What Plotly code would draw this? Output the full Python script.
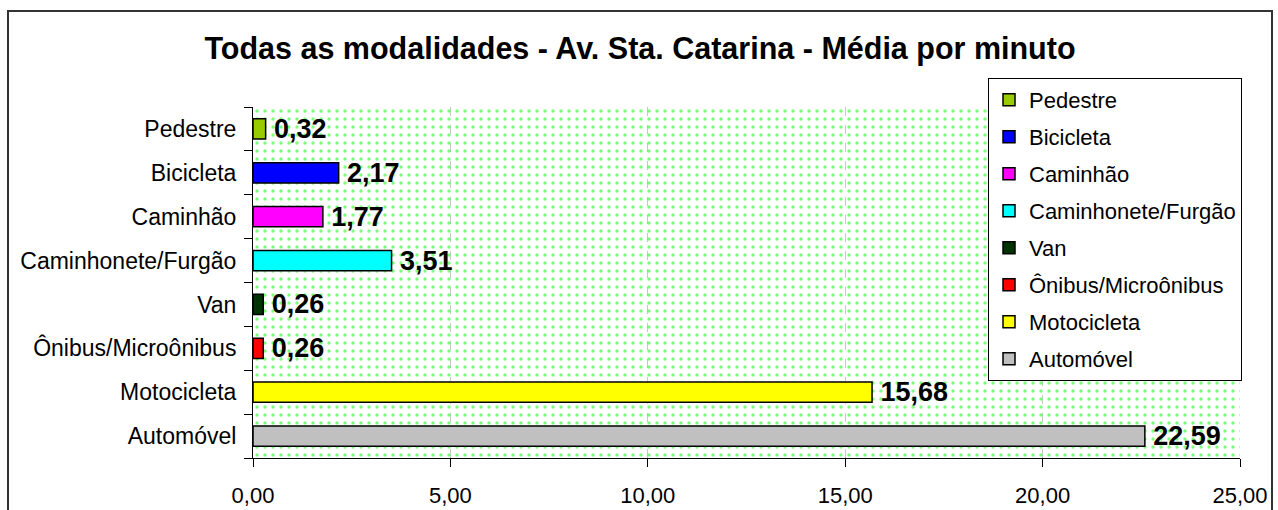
import plotly.graph_objects as go

categories = ["Pedestre", "Bicicleta", "Caminhão", "Caminhonete/Furgão", "Van",
              "Ônibus/Microônibus", "Motocicleta", "Automóvel"]
values = [0.32, 2.17, 1.77, 3.51, 0.26, 0.26, 15.68, 22.59]
colors = ["#99cc00", "#0000ff", "#ff00ff", "#00ffff", "#003300",
          "#ff0000", "#ffff00", "#c0c0c0"]
x_ticks = [0, 5, 10, 15, 20, 25]
title = "Todas as modalidades - Av. Sta. Catarina - Média por minuto"

FONT = "Liberation Sans, Arial, sans-serif"

fig = go.Figure()

# dotted plot-area background (decoration) on base axes
fig.add_trace(go.Bar(
    x=[0.5], y=[1], width=[1], xaxis="x", yaxis="y",
    marker=dict(color="rgba(0,0,0,0)", line=dict(width=0),
                pattern=dict(shape=".", fgcolor="#00ff00", bgcolor="rgba(0,0,0,0)",
                             size=8, solidity=0.14)),
    showlegend=False, hoverinfo="skip",
))

for cat, val, col in zip(categories, values, colors):
    fig.add_trace(go.Bar(
        x=[val], y=[cat], orientation="h", name=cat,
        xaxis="x2", yaxis="y2",
        marker=dict(color=col, line=dict(color="black", width=1.5)),
        width=0.46,
        text=[val], texttemplate="\u2009<b>%{x:.2f}</b>", textposition="outside",
        textfont=dict(size=27, color="black", family=FONT),
        constraintext="none",
        cliponaxis=False, legendgroup=cat,
    ))

W, H = 1278, 510
ml, mr, mt, mb = 253, 38, 107, 52
pw, ph = W - ml - mr, H - mt - mb

def px(x):
    return (x - ml) / pw

def py(y):
    return (H - mb - y) / ph

fig.update_layout(
    width=W, height=H,
    margin=dict(l=ml, r=mr, t=mt, b=mb, autoexpand=False),
    paper_bgcolor="white", plot_bgcolor="white",
    separators=",.",
    barmode="overlay",
    font=dict(family=FONT, size=23, color="black"),
    title=dict(text="<b>" + title + "</b>", x=640 / W, xanchor="center",
               y=1 - 48 / H, yanchor="middle",
               font=dict(size=30.5, family=FONT, color="black")),
    xaxis=dict(range=[0, 1], visible=False, fixedrange=True),
    yaxis=dict(range=[0, 1], visible=False, fixedrange=True),
    xaxis2=dict(overlaying="x", range=[0, 25], tickvals=x_ticks, tickformat=".2f",
                showline=True, linecolor="black", linewidth=1, automargin=False,
                ticks="outside", ticklen=8, tickcolor="black", ticklabelstandoff=10,
                showgrid=True, gridcolor="#c8c8c8", griddash="dash", gridwidth=1,
                zeroline=False, tickfont=dict(size=22), side="bottom", anchor="y2"),
    yaxis2=dict(overlaying="y", categoryorder="array",
                categoryarray=list(reversed(categories)),
                showline=True, linecolor="black", linewidth=1, automargin=False,
                ticks="outside", ticklen=8, tickcolor="black", tickson="boundaries",
                ticklabelstandoff=11,
                showgrid=False, tickfont=dict(size=23), anchor="x2",
                range=[-0.5, 7.5]),
    legend=dict(x=px(988), y=py(78), xanchor="left", yanchor="top",
                bgcolor="white", bordercolor="black", borderwidth=1,
                font=dict(size=22, family=FONT), tracegroupgap=5.4,
                traceorder="grouped", maxheight=440),
    shapes=[dict(type="rect", xref="paper", yref="paper",
                 x0=px(8), x1=px(1272), y0=py(520), y1=py(11),
                 line=dict(color="#333333", width=2), layer="above")],
)

fig.write_html("out.html", config={"displayModeBar": False},
               post_script="document.body.style.margin='0px';")
